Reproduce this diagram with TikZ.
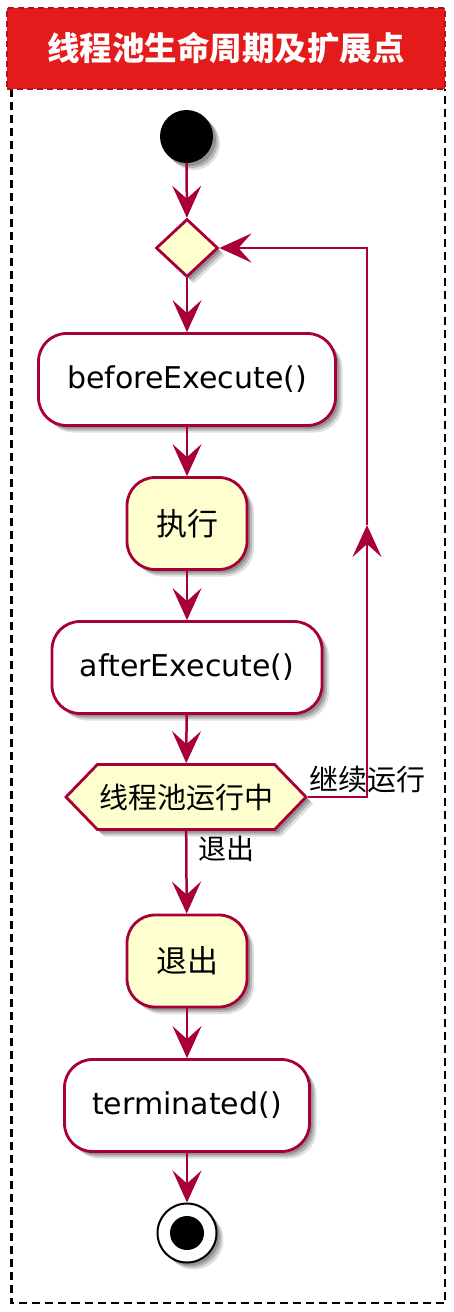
\documentclass[tikz,border=0pt]{standalone}
\usepackage{fontspec}
\setmainfont{DejaVu Sans}
\newfontfamily\cjk{Noto Sans CJK SC}
\usepackage{tikz}
\usetikzlibrary{shapes.geometric, shapes.symbols, arrows.meta, shadows}

\definecolor{umlred}{HTML}{A80036}
\definecolor{umlyellow}{HTML}{FEFECE}
\definecolor{titlered}{HTML}{E31B1B}
\definecolor{titleedge}{HTML}{B0101C}

\begin{document}
\begin{tikzpicture}[x=1pt, y=-1pt,
            umlshadow/.style={drop shadow={shadow xshift=7pt, shadow yshift=-7pt, opacity=0.12, fill=black},
                drop shadow={shadow xshift=5pt, shadow yshift=-5pt, opacity=0.18, fill=black},
                drop shadow={shadow xshift=3pt, shadow yshift=-3pt, opacity=0.2, fill=black}}, % soft shadow under shapes
            actbox/.style={rectangle, rounded corners=28pt, draw=umlred, line width=2.8pt, fill=white, minimum height=92pt, font=\fontsize{30}{35}\selectfont, umlshadow}, % activity box
            yellowbox/.style={actbox, fill=umlyellow, font=\cjk\fontsize{31}{36}\selectfont}, % yellow activity box
            flow/.style={draw=umlred, line width=2.5pt, -{Stealth[length=32pt, width=29pt, inset=13pt]}}, % connector
            lbl/.style={font=\cjk\fontsize{29}{34}\selectfont, inner sep=0pt} % connector label
            ]

                % page and frame
                \path[use as bounding box, fill=white] (0,0) rectangle (454,1312);
                \draw[dash pattern=on 8pt off 5pt, line width=2.4pt] (11.5,89) -- (11.5,1303) -- (445,1303) -- (445,89);
                \node[rectangle, fill=titlered, draw=titleedge, dash pattern=on 6pt off 4pt, line width=2.5pt, minimum width=438pt, minimum height=81pt, text=white, font=\cjk\bfseries\fontsize{32.5}{38}\selectfont] (title) at (226,48.5) {线程池生命周期及扩展点};

                % activities
                \node[circle, fill=black, minimum size=53pt, inner sep=0pt, umlshadow] (start) at (186.5,136.5) {};
                \node[diamond, draw=umlred, line width=2.8pt, fill=umlyellow, minimum width=62pt, minimum height=58pt, inner sep=0pt, umlshadow] (cond) at (187,248) {};
                \node[actbox, minimum width=297pt] (before) at (187,379.5) {beforeExecute()};
                \node[yellowbox, minimum width=120pt] (exec) at (187,523.5) {执行};
                \node[actbox, minimum width=270pt] (after) at (187,667.5) {afterExecute()};
                \node[signal, signal to=west and east, signal pointer angle=92, draw=umlred, line width=2.8pt, fill=umlyellow, minimum width=240pt, minimum height=65pt, inner sep=0pt, font=\cjk\fontsize{29}{34}\selectfont, umlshadow] (running) at (186,797) {线程池运行中};
                \node[yellowbox, minimum width=120pt] (quit) at (187,961) {退出};
                \node[actbox, minimum width=245pt] (term) at (187,1105.5) {terminated()};
                \node[circle, draw=black, line width=2pt, fill=white, minimum size=59pt, inner sep=0pt, umlshadow] (stop) at (187,1233) {};
                \node[circle, fill=black, minimum size=34pt, inner sep=0pt] (stopdot) at (stop.center) {};

                % connectors
                \draw[flow] (start) -- (cond);
                \draw[flow] (cond) -- (before);
                \draw[flow] (before) -- (exec);
                \draw[flow] (exec) -- (after);
                \draw[flow] (after) -- (running);
                \draw[flow] (running) -- node[lbl, pos=0.22, anchor=west, xshift=11pt, font=\cjk\fontsize{28}{33}\selectfont]{退出} (quit);
                \draw[flow] (quit) -- (term);
                \draw[flow] (term) -- (stop);

                % loop back
                \coordinate (lowturn) at (367,797);
                \coordinate (midtip) at (367,525);
                \coordinate (highturn) at (367,248);
                \draw[flow] (running.east) -- node[lbl, pos=0, anchor=west, yshift=17pt]{继续运行} (lowturn) -- (midtip);
                \draw[flow] (midtip) -- (highturn) -- (cond.east);

\end{tikzpicture}
\end{document}
